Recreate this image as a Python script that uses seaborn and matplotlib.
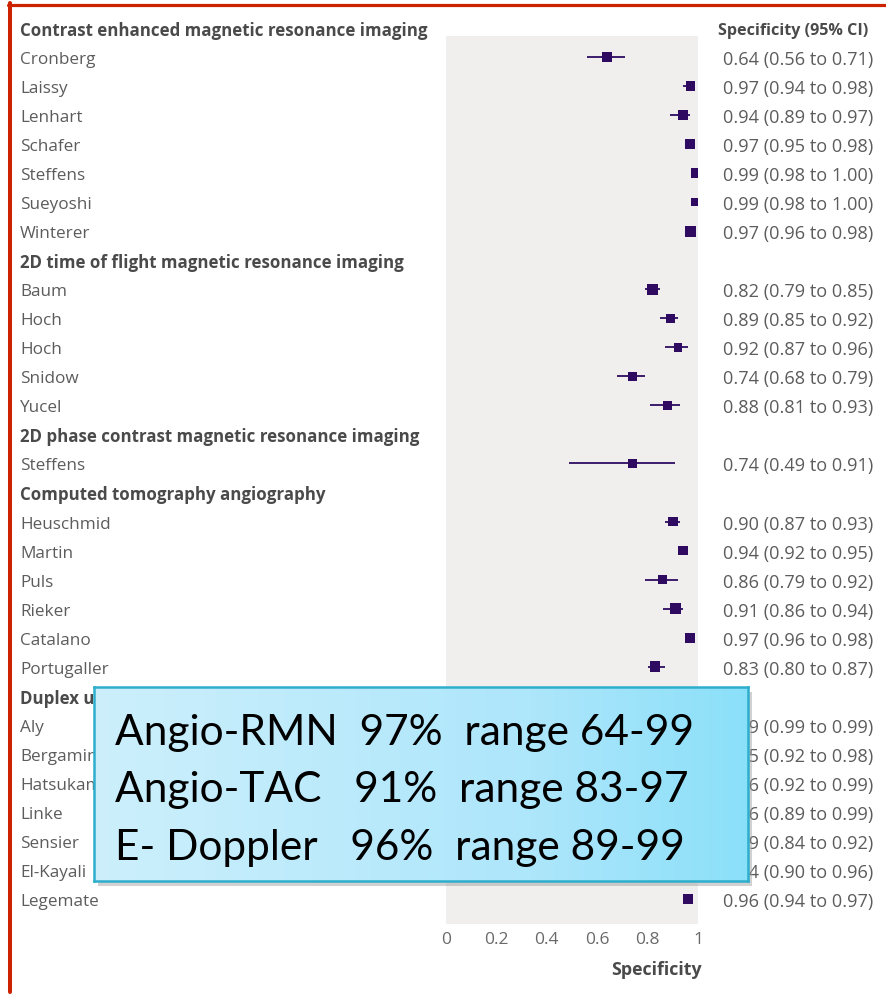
import numpy as np
import pandas as pd
import matplotlib
matplotlib.use("Agg")
import matplotlib.pyplot as plt
import seaborn as sns
from matplotlib.lines import Line2D
from matplotlib.patches import Rectangle
from matplotlib.colors import LinearSegmentedColormap
from matplotlib.transforms import blended_transform_factory

# ---- data -------------------------------------------------------------
group_names = [
    "Contrast enhanced magnetic resonance imaging",
    "2D time of flight magnetic resonance imaging",
    "2D phase contrast magnetic resonance imaging",
    "Computed tomography angiography",
    "Duplex ultrasonography",
]
group_sizes = [7, 5, 1, 6, 7]

studies = [
    "Cronberg", "Laissy", "Lenhart", "Schafer", "Steffens", "Sueyoshi", "Winterer",
    "Baum", "Hoch", "Hoch", "Snidow", "Yucel",
    "Steffens",
    "Heuschmid", "Martin", "Puls", "Rieker", "Catalano", "Portugaller",
    "Aly", "Bergamini", "Hatsukami", "Linke", "Sensier", "El-Kayali", "Legemate",
]
specificity = [
    0.64, 0.97, 0.94, 0.97, 0.99, 0.99, 0.97,
    0.82, 0.89, 0.92, 0.74, 0.88,
    0.74,
    0.90, 0.94, 0.86, 0.91, 0.97, 0.83,
    0.99, 0.95, 0.96, 0.96, 0.89, 0.94, 0.96,
]
ci_low = [
    0.56, 0.94, 0.89, 0.95, 0.98, 0.98, 0.96,
    0.79, 0.85, 0.87, 0.68, 0.81,
    0.49,
    0.87, 0.92, 0.79, 0.86, 0.96, 0.80,
    0.99, 0.92, 0.92, 0.89, 0.84, 0.90, 0.94,
]
ci_high = [
    0.71, 0.98, 0.97, 0.98, 1.00, 1.00, 0.98,
    0.85, 0.92, 0.96, 0.79, 0.93,
    0.91,
    0.93, 0.95, 0.92, 0.94, 0.98, 0.87,
    0.99, 0.98, 0.99, 0.99, 0.92, 0.96, 0.97,
]
# relative study weights (drawn as marker area)
weights = [
    72, 64, 64, 72, 64, 45, 90,
    90, 64, 52, 49, 52,
    49,
    64, 68, 56, 76, 70, 76,
    64, 64, 64, 64, 64, 64, 60,
]

x_ticks = [0, 0.2, 0.4, 0.6, 0.8, 1]
x_tick_labels = ["0", "0.2", "0.4", "0.6", "0.8", "1"]
value_header = "Specificity (95% CI)"
x_label = "Specificity"

summary_lines = [
    "Angio-RMN  97%  range 64-99",
    "Angio-TAC   91%  range 83-97",
    "E- Doppler   96%  range 89-99",
]

# ---- layout of rows ----------------------------------------------------
rows = []
header_rows = []
r = 0
for name, n in zip(group_names, group_sizes):
    header_rows.append((r, name))
    r += 1
    for _ in range(n):
        rows.append(r)
        r += 1

df = pd.DataFrame({
    "study": studies, "spec": specificity, "lo": ci_low, "hi": ci_high,
    "weight": weights, "row": rows,
})

# ---- figure ------------------------------------------------------------
W, H = 887, 995
fig = plt.figure(figsize=(W / 100, H / 100), dpi=100)
sns.set_style("white")
plt.rcParams["font.family"] = ["Open Sans", "DejaVu Sans"]

def fx(px):
    return px / W

def fy(py):
    return 1 - py / H

row0, pitch = 29.0, 29.03
top_px, bot_px = 37, 925
ax = fig.add_axes([fx(446), fy(bot_px), fx(698) - fx(446), (bot_px - top_px) / H])
ax.set_facecolor("#f0efee")
for s in ax.spines.values():
    s.set_visible(False)

mark = "#2e0b60"
ax.hlines(df["row"], df["lo"], df["hi"], color=mark, lw=1.3, zorder=2)
sns.scatterplot(
    data=df, x="spec", y="row", size="weight", sizes=(0, 66),
    size_norm=(0, 90), marker="s", color=mark, edgecolor="none",
    legend=False, ax=ax, zorder=3,
)
ax.set_xlim(0, 1)
ax.set_ylim((bot_px - row0) / pitch, (top_px - row0) / pitch)
ax.set_yticks([])
ax.set_xticks(x_ticks)
ax.set_xticklabels(x_tick_labels, color="#6a6a6a", fontsize=12.5)
ax.tick_params(axis="x", direction="in", length=7, width=1.2, color="white", pad=5)
ax.set_xlabel("")
ax.set_ylabel("")

txt = "#5c5c5c"
hdr = "#4a4a4a"
tr = blended_transform_factory(fig.transFigure, ax.transData)
for row, name in header_rows:
    fig.text(fx(20), row, name, transform=tr, ha="left", va="center_baseline",
             fontsize=12.2, fontweight="bold", color=hdr)
fig.text(fx(718), 0, value_header, transform=tr, ha="left", va="center_baseline",
         fontsize=11.6, fontweight="bold", color=hdr)
for _, d in df.iterrows():
    fig.text(fx(20), d["row"], d["study"], transform=tr, ha="left",
             va="center_baseline", fontsize=12.3, color=txt)
    fig.text(fx(723), d["row"], f"{d['spec']:.2f} ({d['lo']:.2f} to {d['hi']:.2f})",
             transform=tr, ha="left", va="center_baseline", fontsize=13.1, color=txt)

fig.text(fx(702), fy(970), x_label, ha="right", va="center", fontsize=12.8,
         fontweight="bold", color=hdr)

# ---- summary box ---------------------------------------------------------
bx0, by0, bx1, by1 = 94, 688, 748, 882
fig.patches.append(Rectangle((fx(bx0 + 4), fy(by1 + 5)), fx(bx1 - bx0), (by1 - by0) / H,
                             transform=fig.transFigure, facecolor="#9a9a9a",
                             alpha=0.45, edgecolor="none", zorder=4))
bax = fig.add_axes([fx(bx0), fy(by1), fx(bx1 - bx0), (by1 - by0) / H], zorder=5)
grad = LinearSegmentedColormap.from_list("sky", ["#cdeffc", "#bdebfb", "#aee6fb", "#8be0f9"])
bax.imshow(np.linspace(0, 1, 256)[None, :], cmap=grad, aspect="auto", extent=[0, 1, 0, 1])
bax.set_xticks([])
bax.set_yticks([])
for s in bax.spines.values():
    s.set_color("#2eaecd")
    s.set_linewidth(1.8)
for i, line in enumerate(summary_lines):
    fig.text(fx(115), fy(745 + i * 57.5), line, ha="left", va="baseline",
             fontsize=30.5, color="black", family=["Lato", "DejaVu Sans"], zorder=6)

# ---- page frame ----------------------------------------------------------
red = "#cc2200"
fig.add_artist(Line2D([fx(8), 1], [fy(5.5), fy(5.5)], color=red, lw=2.3))
fig.add_artist(Line2D([fx(10), fx(10)], [fy(4), fy(993)], color=red, lw=2.9))

fig.savefig("out.png", dpi=100)
